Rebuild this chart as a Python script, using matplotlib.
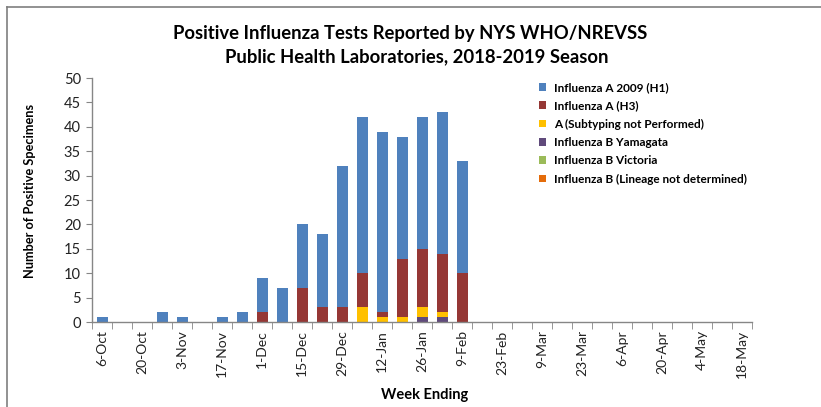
import matplotlib
matplotlib.use("Agg")
import matplotlib.pyplot as plt
from matplotlib.patches import Patch
from matplotlib.lines import Line2D
import numpy as np

plt.rcParams['font.family'] = ['Lato', 'DejaVu Sans']

weeks = ["6-Oct", "13-Oct", "20-Oct", "27-Oct", "3-Nov", "10-Nov", "17-Nov", "24-Nov",
         "1-Dec", "8-Dec", "15-Dec", "22-Dec", "29-Dec", "5-Jan", "12-Jan", "19-Jan",
         "26-Jan", "2-Feb", "9-Feb", "16-Feb", "23-Feb", "2-Mar", "9-Mar", "16-Mar",
         "23-Mar", "30-Mar", "6-Apr", "13-Apr", "20-Apr", "27-Apr", "4-May", "11-May", "18-May"]

h1 = [1, 0, 0, 2, 1, 0, 1, 2, 7, 7, 13, 15, 29, 32, 37, 25, 27, 29, 23] + [0] * 14
h3 = [0, 0, 0, 0, 0, 0, 0, 0, 2, 0, 7, 3, 3, 7, 1, 12, 12, 12, 10] + [0] * 14
unsub = [0] * 13 + [3, 1, 1, 2, 1, 0] + [0] * 14
yamagata = [0] * 16 + [1, 1, 0] + [0] * 14
victoria = [0] * 33
b_undet = [0] * 33

series = [
    ("Influenza A 2009 (H1)", h1, "#4F81BD"),
    ("Influenza A (H3)", h3, "#953735"),
    ("A (Subtyping not Performed)", unsub, "#FFC000"),
    ("Influenza B Yamagata", yamagata, "#604A7B"),
    ("Influenza B Victoria", victoria, "#9BBB59"),
    ("Influenza B (Lineage not determined)", b_undet, "#E46C0A"),
]

fig = plt.figure(figsize=(8.21, 4.07), dpi=100)
ax = fig.add_axes([92 / 821, 85 / 407, 660 / 821, 244 / 407])

x = np.arange(len(weeks))
stack_order = [series[3], series[4], series[5], series[2], series[1], series[0]]
bottom = np.zeros(len(weeks))
for name, vals, col in stack_order:
    v = np.array(vals, dtype=float)
    ax.bar(x, v, 0.55, bottom=bottom, color=col, linewidth=0)
    bottom += v

ax.set_xlim(-0.5, len(weeks) - 0.5)
ax.set_ylim(0, 50)
ax.set_yticks(range(0, 51, 5))
ax.tick_params(axis='y', labelsize=10.5, length=4, color='#868686', pad=4, labelcolor='#222222')

ax.set_xticks(x[::2])
ax.set_xticklabels(weeks[::2], rotation=90, fontsize=10, color='#222222')
ax.tick_params(axis='x', which='major', length=0, pad=6)
ax.set_xticks(np.arange(-0.5, len(weeks), 1), minor=True)
ax.tick_params(axis='x', which='minor', length=5, color='#868686')

for s in ['top', 'right']:
    ax.spines[s].set_visible(False)
for s in ['left', 'bottom']:
    ax.spines[s].set_color('#868686')
    ax.spines[s].set_linewidth(1)

fig.text(30 / 821, 1 - 191 / 407, "Number of Positive Specimens", rotation=90,
         ha='center', va='center', fontsize=9.2, fontweight='bold')
fig.text(425 / 821, 1 - 395 / 407, "Week Ending", ha='center', va='center', fontsize=10.5, fontweight='bold')

fig.text(410 / 821, 1 - 33 / 407, "Positive Influenza Tests Reported by NYS WHO/NREVSS",
         ha='center', va='center', fontsize=13.3, fontweight='bold')
fig.text(417 / 821, 1 - 57 / 407, "Public Health Laboratories, 2018-2019 Season",
         ha='center', va='center', fontsize=13.3, fontweight='bold')

handles = [Patch(facecolor=c, edgecolor='none') for _, _, c in series]
labels = [n for n, _, _ in series]
fig.legend(handles, labels, loc='upper left', bbox_to_anchor=(539 / 821, 1 - 82 / 407),
           frameon=False, prop={'weight': 'bold', 'size': 8.5},
           handlelength=0.6, handleheight=0.6, handletextpad=0.7, labelspacing=0.62,
           borderaxespad=0, borderpad=0)

fig.add_artist(Line2D([7 / 821, 1], [1 - 7 / 407, 1 - 7 / 407], transform=fig.transFigure,
                      color='#7F7F7F', linewidth=1.2))
fig.add_artist(Line2D([7 / 821, 7 / 821], [0, 1 - 7 / 407], transform=fig.transFigure,
                      color='#7F7F7F', linewidth=1.2))

fig.savefig("out.png", dpi=100)
